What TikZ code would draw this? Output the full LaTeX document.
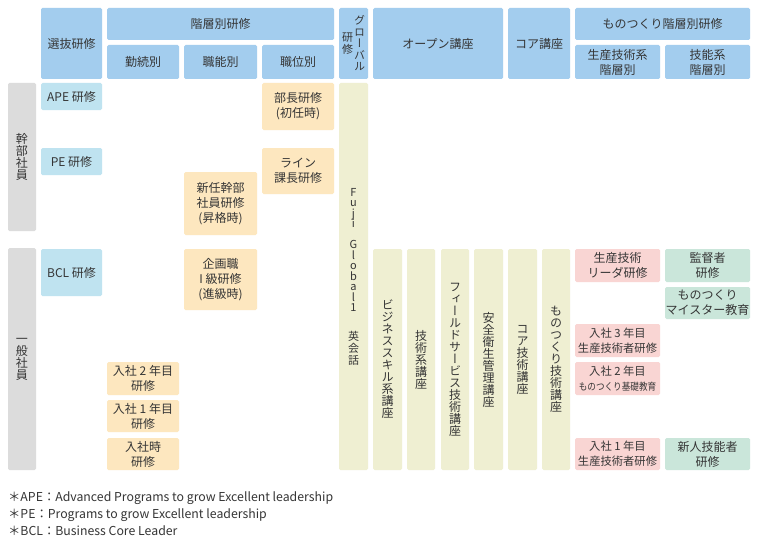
\documentclass[tikz,border=0pt]{standalone}
\usepackage{fontspec}
\usepackage{graphicx}
\setmainfont{Noto Sans CJK JP}
\newfontfamily\vfont{Noto Sans CJK JP}[RawFeature=+vert]
\definecolor{hdrblue}{HTML}{A3CDEE}
\definecolor{lblue}{HTML}{BFE3F0}
\definecolor{orng}{HTML}{FDE7BF}
\definecolor{beige}{HTML}{EFEFD2}
\definecolor{pinkc}{HTML}{F9D5D3}
\definecolor{greenc}{HTML}{CAE6DA}
\definecolor{grayc}{HTML}{DCDCDC}
\definecolor{txt}{HTML}{353535}
\newcommand\vstack[2][12pt]{$\vcenter{\baselineskip=#1\lineskiplimit=-30pt\lineskip=0pt\halign{\hfil##\hfil\cr#2\crcr}}$}
\newcommand\bx[7]{\pgfmathsetmacro\bxw{#4-#2}\pgfmathsetmacro\bxh{#5-#3}%
  \node[#6,minimum width=\bxw pt,minimum height=\bxh pt] (#1) at ({(#2+#4)/2},{(#3+#5)/2}) {#7};}
\tikzset{
  base/.style={rounded corners=1.5pt, inner sep=0pt, outer sep=0pt, align=center,
    text=txt, font=\fontsize{12}{15}\selectfont},
  hdr/.style={base, fill=hdrblue},
  sel/.style={base, fill=lblue},
  ora/.style={base, fill=orng},
  bei/.style={base, fill=beige},
  pnk/.style={base, fill=pinkc},
  grn/.style={base, fill=greenc},
  gry/.style={base, fill=grayc},
  vt/.style={font=\vfont\fontsize{12}{12}\selectfont},
  note/.style={anchor=base west, inner sep=0pt, text=txt, font=\fontsize{12.3}{14}\selectfont}
}
\begin{document}
\begin{tikzpicture}[x=1pt,y=-1pt]
\useasboundingbox (0,0) rectangle (758,543);
\fill[white] (0,0) rectangle (758,543);
% header row
\bx{sel}{41}{8}{102}{79}{hdr}{選抜研修}
\bx{kai}{107}{8}{334}{40}{hdr}{階層別研修}
\bx{kin}{107}{45}{179}{79}{hdr}{勤続別}
\bx{sho}{184}{45}{257}{79}{hdr}{職能別}
\bx{shi}{262}{45}{334}{79}{hdr}{職位別}
\bx{glb}{339}{8}{368}{79}{hdr,vt,font=\vfont\fontsize{11}{11}\selectfont}{\vstack[11.5pt]{研\cr 修}\hspace{1pt}\vstack[11.5pt]{グ\cr ロ\cr ー\cr バ\cr ル}}
\bx{opn}{373}{8}{503}{79}{hdr}{オープン講座}
\bx{cor}{508}{8}{570}{79}{hdr}{コア講座}
\bx{mono}{575}{8}{750}{40}{hdr}{ものつくり階層別研修}
\bx{seig}{575}{45}{660}{79}{hdr}{生産技術系\\階層別}
\bx{ginou}{665}{45}{750}{79}{hdr}{技能系\\階層別}
% left labels
\bx{kanbu}{8}{83}{36}{231}{gry,vt}{\vstack{幹\cr 部\cr 社\cr 員}}
\bx{ippan}{8}{248}{36}{470}{gry,vt}{\vstack{一\cr 般\cr 社\cr 員}}
% selection
\bx{ape}{41}{83}{102}{110}{sel}{APE 研修}
\bx{pe}{41}{148}{102}{175}{sel}{PE 研修}
\bx{bcl}{41}{249}{102}{296}{sel}{BCL 研修}
% hierarchy
\bx{bucho}{262}{83}{334}{130}{ora}{部長研修\\(初任時)}
\bx{kacho}{262}{148}{334}{194}{ora}{ライン\\課長研修}
\bx{shinnin}{184}{172}{257}{235}{ora}{新任幹部\\社員研修\\(昇格時)}
\bx{kikaku}{184}{249}{257}{310}{ora}{企画職\\I 級研修\\(進級時)}
\bx{n2}{107}{362}{179}{395}{ora}{入社 2 年目\\研修}
\bx{n1}{107}{400}{179}{432}{ora}{入社 1 年目\\研修}
\bx{n0}{107}{438}{179}{470}{ora}{入社時\\研修}
% global
\bx{fuji}{339}{83}{368}{470}{bei,font=\fontsize{11}{11}\selectfont}{\vstack[10.5pt]{F\cr u\cr j\cr i\cr\cr G\cr l\cr o\cr b\cr a\cr l\cr 1\cr\noalign{\vskip 18pt}英\cr\noalign{\vskip 1.5pt}会\cr\noalign{\vskip 1.5pt}話}}
% open courses
\bx{biz}{373}{249}{402}{470}{bei,vt}{\vstack{ビ\cr ジ\cr ネ\cr ス\cr ス\cr キ\cr ル\cr 系\cr 講\cr 座}}
\bx{gij}{407}{249}{435}{470}{bei,vt}{\vstack{技\cr 術\cr 系\cr 講\cr 座}}
\bx{fld}{441}{249}{469}{470}{bei,vt}{\vstack{フ\cr ィ\cr ー\cr ル\cr ド\cr サ\cr ー\cr ビ\cr ス\cr 技\cr 術\cr 講\cr 座}}
\bx{anz}{474}{249}{503}{470}{bei,vt}{\vstack{安\cr 全\cr 衛\cr 生\cr 管\cr 理\cr 講\cr 座}}
\bx{cgt}{508}{249}{537}{470}{bei,vt}{\vstack{コ\cr ア\cr 技\cr 術\cr 講\cr 座}}
\bx{mgt}{542}{249}{570}{470}{bei,vt}{\vstack{も\cr の\cr つ\cr く\cr り\cr 技\cr 術\cr 講\cr 座}}
% monozukuri
\bx{p1}{575}{249}{660}{282}{pnk}{生産技術\\リーダ研修}
\bx{p3}{575}{324}{660}{357}{pnk,font=\fontsize{11.3}{15}\selectfont}{入社 3 年目\\生産技術者研修}
\bx{p2}{575}{362}{660}{395}{pnk,font=\fontsize{11.3}{15}\selectfont}{入社 2 年目\\\scalebox{0.86}[1]{\fontsize{10}{12}\selectfont ものつくり基礎教育}}
\bx{p0}{575}{438}{660}{470}{pnk,font=\fontsize{11.3}{15}\selectfont}{入社 1 年目\\生産技術者研修}
\bx{g1}{665}{249}{750}{282}{grn}{監督者\\研修}
\bx{g2}{665}{287}{750}{319}{grn}{ものつくり\\マイスター教育}
\bx{g0}{665}{438}{750}{470}{grn}{新人技能者\\研修}
% notes
\node[note] (f1) at (8,501) {＊APE：Advanced Programs to grow Excellent leadership};
\node[note] (f2) at (8,518) {＊PE：Programs to grow Excellent leadership};
\node[note] (f3) at (8,535) {＊BCL：Business Core Leader};
\end{tikzpicture}
\end{document}
